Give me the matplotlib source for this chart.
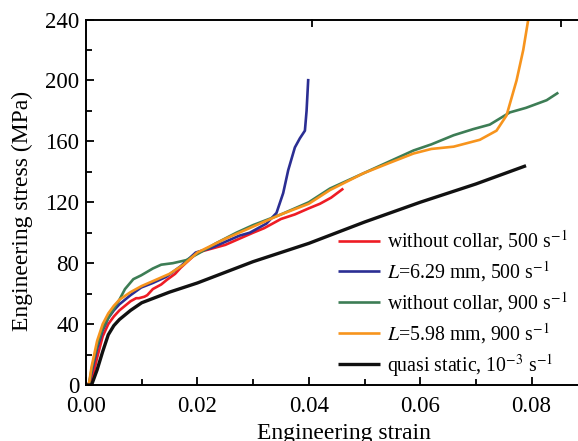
import matplotlib
matplotlib.use("Agg")
import matplotlib.pyplot as plt
from matplotlib.ticker import MultipleLocator

plt.rcParams['font.family'] = ['Liberation Serif', 'DejaVu Serif']
plt.rcParams['mathtext.fontset'] = 'stix'

# without collar, 500 s^-1
red_x = [0, 0.001, 0.002, 0.003, 0.004, 0.005, 0.006, 0.007, 0.008, 0.009, 0.0095, 0.0105, 0.011, 0.012,
         0.0135, 0.0145, 0.016, 0.017, 0.0185, 0.02, 0.022, 0.025, 0.0275, 0.03, 0.032, 0.035, 0.0375,
         0.04, 0.042, 0.044, 0.0462]
red_y = [0, 2, 18, 32, 40, 45, 49, 52, 55, 57, 57, 58, 59, 63, 66, 69, 73, 77, 82, 87, 89, 92, 96, 100,
         103, 109, 112, 116, 119, 123, 129]
# L=6.29 mm, 500 s^-1
blue_x = [0, 0.0005, 0.001, 0.002, 0.003, 0.004, 0.005, 0.006, 0.008, 0.0099, 0.012, 0.0144, 0.017,
          0.0197, 0.0225, 0.025, 0.0275, 0.0294, 0.0324, 0.0342, 0.0354, 0.0363, 0.0375, 0.0384,
          0.0393, 0.0396, 0.0399]
blue_y = [0, 0, 8, 24, 36, 44, 49, 53, 59, 64, 67, 71, 78, 87, 90, 94, 98, 100, 106, 113, 126, 141,
          156, 162, 167, 180, 201]
# without collar, 900 s^-1
green_x = [0, 0.0005, 0.001, 0.002, 0.003, 0.004, 0.005, 0.006, 0.007, 0.0085, 0.0099, 0.012, 0.0135,
           0.0156, 0.018, 0.0205, 0.0233, 0.027, 0.03, 0.035, 0.04, 0.0438, 0.0498, 0.0546, 0.0588,
           0.062, 0.066, 0.0695, 0.0725, 0.0761, 0.079, 0.0827, 0.0848]
green_y = [0, 0, 10, 26, 37, 44, 50, 56, 63, 69.5, 72, 76.5, 79, 80, 82, 87, 93, 100, 105, 112, 120,
           129, 139, 147, 154, 158, 164, 168, 171, 179, 182, 187, 192]
# L=5.98 mm, 900 s^-1
orange_x = [0, 0.0005, 0.001, 0.002, 0.003, 0.004, 0.005, 0.006, 0.008, 0.01, 0.0125, 0.015, 0.0175,
            0.02, 0.025, 0.03, 0.035, 0.04, 0.0438, 0.0498, 0.0546, 0.0588, 0.062, 0.066, 0.0707,
            0.0737, 0.0755, 0.0773, 0.0785, 0.0794, 0.0800]
orange_y = [0, 0, 12, 29, 40, 47, 52, 56, 61, 65, 69, 73, 79, 87, 96, 104, 112, 119, 128, 139, 146,
            152, 155, 156.5, 161, 167, 177, 200, 220, 240, 255]
# quasi static, 10^-3 s^-1
black_x = [0, 0.001, 0.002, 0.003, 0.004, 0.005, 0.006, 0.008, 0.01, 0.015, 0.02, 0.03, 0.04, 0.05,
           0.06, 0.07, 0.079]
black_y = [0, 0, 10, 22, 33, 39, 43, 49, 54, 61, 67, 81, 93, 107, 120, 132, 144]

labels = ["without collar, 500 s$^{-1}$",
          "$L$=6.29 mm, 500 s$^{-1}$",
          "without collar, 900 s$^{-1}$",
          "$L$=5.98 mm, 900 s$^{-1}$",
          "quasi static, 10$^{-3}$ s$^{-1}$"]
colors = ["#ee1c24", "#2b2e93", "#3d7d55", "#f7941d", "#111111"]

fig = plt.figure(figsize=(5.78, 4.41), dpi=100)
ax = fig.add_axes([86/578, 1-385/441, 1-86/578, (385-19.5)/441])

series = [(red_x, red_y), (blue_x, blue_y), (green_x, green_y), (orange_x, orange_y), (black_x, black_y)]
for (xs, ys), c, lab in zip(series, colors, labels):
    lw = 2.4 if c == "#111111" else 1.9
    ax.plot(xs, ys, color=c, lw=lw, label=lab, solid_capstyle='butt')

ax.set_xlim(0, (578-86)/5570)
ax.set_ylim(0, 240)
ax.xaxis.set_major_locator(MultipleLocator(0.02))
ax.xaxis.set_minor_locator(MultipleLocator(0.01))
ax.yaxis.set_major_locator(MultipleLocator(40))
ax.yaxis.set_minor_locator(MultipleLocator(20))
ax.xaxis.set_major_formatter(matplotlib.ticker.FormatStrFormatter('%.2f'))
ax.tick_params(which='both', direction='in', labelsize=16.5, width=1.3)
ax.tick_params(which='major', length=6)
ax.tick_params(which='minor', length=4)
ax.tick_params(axis='x', pad=8)
ax.tick_params(axis='y', pad=5)
ax.spines['right'].set_visible(False)
for s in ['left', 'bottom', 'top']:
    ax.spines[s].set_linewidth(1.4)

sec = ax.secondary_xaxis('top')
sec.set_xticks([0.0405, 0.0852])
sec.tick_params(direction='in', length=6, width=1.3, labeltop=False)
sec.spines['top'].set_visible(False)

ax.set_xlabel("Engineering strain", fontsize=17)
ax.xaxis.set_label_coords(0.524, -0.103)
ax.set_ylabel("Engineering stress (MPa)", fontsize=17)
ax.yaxis.set_label_coords(-0.108, 0.475)

leg = ax.legend(loc='upper left', bbox_to_anchor=(0.513, 0.428), frameon=False, fontsize=14.3,
                handlelength=2.1, handletextpad=0.35, labelspacing=0.3, borderpad=0, borderaxespad=0)

fig.savefig("out.png", dpi=100)
